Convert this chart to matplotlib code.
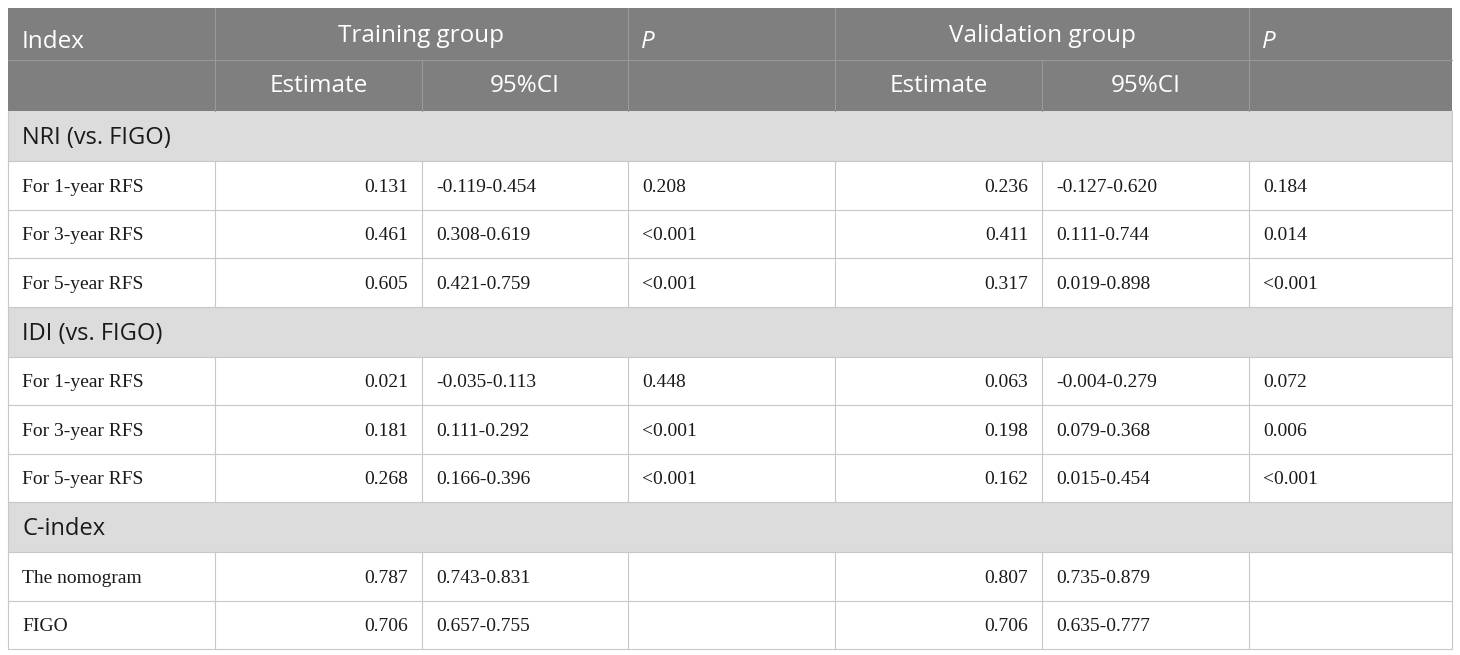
import matplotlib
matplotlib.use("Agg")
import matplotlib.pyplot as plt
from matplotlib.patches import Rectangle

# table content
header_top = ["Index", "Training group", "P", "Validation group", "P"]
header_sub = ["Estimate", "95%CI", "Estimate", "95%CI"]

sections = ["NRI (vs. FIGO)", "IDI (vs. FIGO)", "C-index"]
row_labels = [
    ["For 1-year RFS", "For 3-year RFS", "For 5-year RFS"],
    ["For 1-year RFS", "For 3-year RFS", "For 5-year RFS"],
    ["The nomogram", "FIGO"],
]
train_est = [["0.131", "0.461", "0.605"], ["0.021", "0.181", "0.268"], ["0.787", "0.706"]]
train_ci = [["-0.119-0.454", "0.308-0.619", "0.421-0.759"],
            ["-0.035-0.113", "0.111-0.292", "0.166-0.396"],
            ["0.743-0.831", "0.657-0.755"]]
train_p = [["0.208", "<0.001", "<0.001"], ["0.448", "<0.001", "<0.001"], ["", ""]]
valid_est = [["0.236", "0.411", "0.317"], ["0.063", "0.198", "0.162"], ["0.807", "0.706"]]
valid_ci = [["-0.127-0.620", "0.111-0.744", "0.019-0.898"],
            ["-0.004-0.279", "0.079-0.368", "0.015-0.454"],
            ["0.735-0.879", "0.635-0.777"]]
valid_p = [["0.184", "0.014", "<0.001"], ["0.072", "0.006", "<0.001"], ["", ""]]

# geometry in pixels
col_x = [8, 215, 422, 628, 835, 1042, 1249, 1452]
head_y = [8, 60, 111]
sec_h = 50
row_h = 48.5

HEAD = "#7f7f7f"
SEC = "#dcdcdc"
GRID = "#c8c8c8"
HGRID = "#999999"
sans = "Open Sans"
serif = "Liberation Serif"

fig = plt.figure(figsize=(14.6, 6.55), dpi=100)
ax = fig.add_axes([0, 0, 1, 1])
ax.set_xlim(0, 1460)
ax.set_ylim(655, 0)
ax.axis("off")

left, right = col_x[0], col_x[-1]

# header block
ax.add_patch(Rectangle((left, head_y[0]), right - left, head_y[2] - head_y[0],
                       facecolor=HEAD, edgecolor="none"))
ax.plot([left, right], [head_y[1], head_y[1]], color=HGRID, lw=0.8)
for x in [215, 628, 835, 1249]:
    ax.plot([x, x], [head_y[0], head_y[2]], color=HGRID, lw=0.8)
for x in [422, 1042]:
    ax.plot([x, x], [head_y[1], head_y[2]], color=HGRID, lw=0.8)

hs = 17.5
ty = 42
ax.text(left + 14, ty, header_top[0], fontsize=hs, family=sans, color="white", va="center")
ax.text((col_x[1] + col_x[3]) / 2, ty - 6, header_top[1], fontsize=hs, family=sans, color="white",
        va="center", ha="center")
ax.text(col_x[3] + 13, ty, header_top[2], fontsize=hs, family=sans, color="white", va="center",
        style="italic")
ax.text((col_x[4] + col_x[6]) / 2, ty - 6, header_top[3], fontsize=hs, family=sans, color="white",
        va="center", ha="center")
ax.text(col_x[6] + 13, ty, header_top[4], fontsize=hs, family=sans, color="white", va="center",
        style="italic")
sy = 86
for i, c in enumerate([1, 2, 4, 5]):
    ax.text((col_x[c] + col_x[c + 1]) / 2, sy, header_sub[i], fontsize=hs, family=sans,
            color="white", va="center", ha="center")

# body
y = head_y[2]
ds = 14
for s, name in enumerate(sections):
    ax.add_patch(Rectangle((left, y), right - left, sec_h, facecolor=SEC, edgecolor="none"))
    ax.plot([left, right], [y + sec_h, y + sec_h], color=GRID, lw=0.8)
    ax.text(left + 14, y + sec_h / 2 + 2, name, fontsize=17, family=sans, color="#1a1a1a",
            va="center")
    top = y
    y += sec_h
    for r, lab in enumerate(row_labels[s]):
        cy = y + row_h / 2 + 2
        cells = [lab, train_est[s][r], train_ci[s][r], train_p[s][r],
                 valid_est[s][r], valid_ci[s][r], valid_p[s][r]]
        for c, txt in enumerate(cells):
            if c in (1, 4):
                ax.text(col_x[c + 1] - 14, cy, txt, fontsize=ds, family=serif, color="#1a1a1a",
                        va="center", ha="right")
            else:
                ax.text(col_x[c] + 14, cy, txt, fontsize=ds, family=serif, color="#1a1a1a",
                        va="center", ha="left")
        for x in col_x:
            ax.plot([x, x], [y, y + row_h], color=GRID, lw=0.8)
        y += row_h
        ax.plot([left, right], [y, y], color=GRID, lw=0.8)
    for x in [left, right]:
        ax.plot([x, x], [top, top + sec_h], color=GRID, lw=0.8)

fig.savefig("out.png", dpi=100)
